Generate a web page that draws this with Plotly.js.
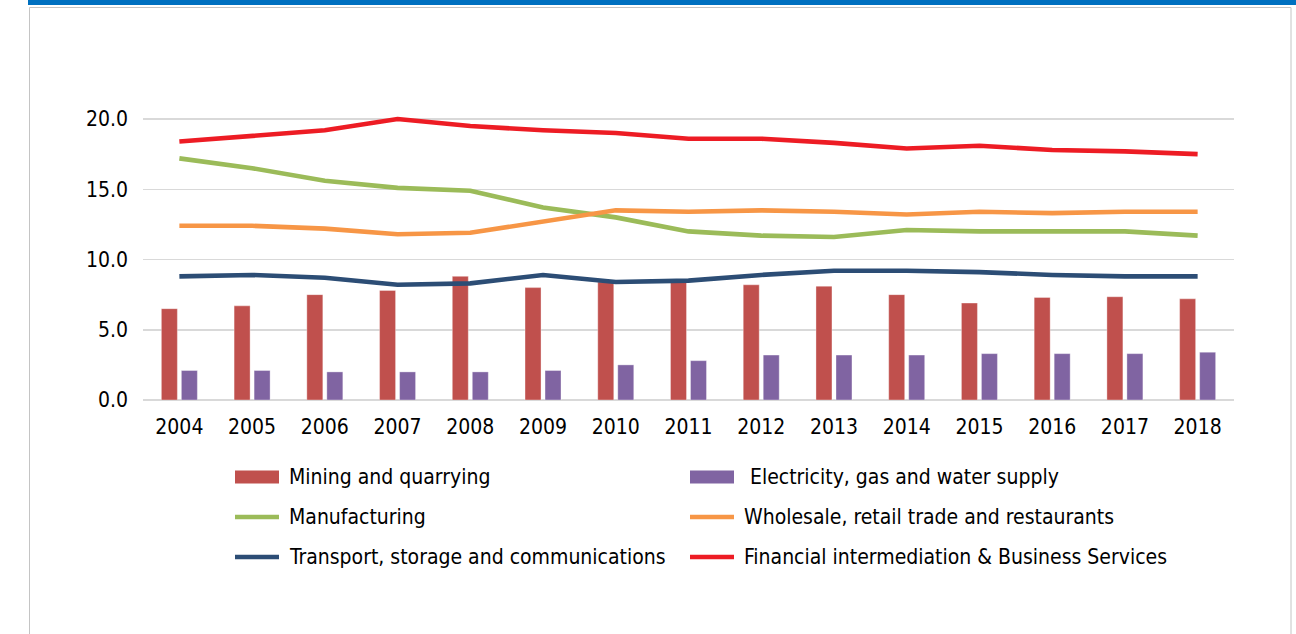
<!DOCTYPE html>
<html>
<head>
<meta charset="utf-8">
<script src="https://cdn.plot.ly/plotly-3.0.1.min.js"></script>
<style>
  html, body { margin: 0; padding: 0; background: #ffffff; }
  #chart { width: 1296px; height: 634px; }
</style>
</head>
<body>
<div id="chart"></div>
<script>
// ---- data ----
const years = ['2004','2005','2006','2007','2008','2009','2010','2011','2012','2013','2014','2015','2016','2017','2018'];
const mining        = [6.5, 6.7, 7.5, 7.8, 8.8, 8.0, 8.4, 8.5, 8.2, 8.1, 7.5, 6.9, 7.3, 7.35, 7.2];
const electricity   = [2.1, 2.1, 2.0, 2.0, 2.0, 2.1, 2.5, 2.8, 3.2, 3.2, 3.2, 3.3, 3.3, 3.3, 3.4];
const manufacturing = [17.2, 16.5, 15.6, 15.1, 14.9, 13.7, 13.0, 12.0, 11.7, 11.6, 12.1, 12.0, 12.0, 12.0, 11.7];
const wholesale     = [12.4, 12.4, 12.2, 11.8, 11.9, 12.7, 13.5, 13.4, 13.5, 13.4, 13.2, 13.4, 13.3, 13.4, 13.4];
const transport     = [8.8, 8.9, 8.7, 8.2, 8.3, 8.9, 8.4, 8.5, 8.9, 9.2, 9.2, 9.1, 8.9, 8.8, 8.8];
const financial     = [18.4, 18.8, 19.2, 20.0, 19.5, 19.2, 19.0, 18.6, 18.6, 18.3, 17.9, 18.1, 17.8, 17.7, 17.5];
const seriesNames = [
  'Mining and quarrying',
  ' Electricity, gas and water supply',
  'Manufacturing',
  'Wholesale, retail trade and restaurants',
  'Transport, storage and communications',
  'Financial intermediation & Business Services'
];
const yTicks = [0, 5, 10, 15, 20];

// ---- styling ----
const FONT = 'DejaVu Sans Condensed, Noto Sans, DejaVu Sans, sans-serif';
const FS = 21;
const colors = ['#C0504D', '#8064A2', '#9BBB59', '#F79646', '#2C4D75', '#ED1C24'];

// pixel -> paper helpers (plot area: x 143..1234, y 112..400)
const L = 143, R = 62, T = 112, B = 234, W = 1296, Hh = 634;
const PW = W - L - R, PH = Hh - T - B;
const xp = px => (px - L) / PW;
const yp = py => (Hh - B - py) / PH;

const traces = [
  { type: 'bar', x: years, y: mining, name: seriesNames[0],
    marker: { color: colors[0], line: { color: 'rgba(255,255,255,0.35)', width: 1 } } },
  { type: 'bar', x: years, y: electricity, name: seriesNames[1],
    marker: { color: colors[1], line: { color: 'rgba(255,255,255,0.35)', width: 1 } } },
  { type: 'scatter', mode: 'lines', x: years, y: manufacturing, name: seriesNames[2],
    line: { color: colors[2], width: 4.6 } },
  { type: 'scatter', mode: 'lines', x: years, y: wholesale, name: seriesNames[3],
    line: { color: colors[3], width: 4.6 } },
  { type: 'scatter', mode: 'lines', x: years, y: transport, name: seriesNames[4],
    line: { color: colors[4], width: 4.6 } },
  { type: 'scatter', mode: 'lines', x: years, y: financial, name: seriesNames[5],
    line: { color: colors[5], width: 4.6 } }
];

// frame shapes
const shapes = [
  { type: 'rect', xref: 'paper', yref: 'paper', layer: 'below',
    x0: xp(29.5), x1: xp(1291), y0: yp(7.5), y1: yp(650),
    line: { color: '#c4c4c4', width: 1 }, fillcolor: 'rgba(0,0,0,0)' },
  { type: 'rect', xref: 'paper', yref: 'paper', layer: 'above',
    x0: xp(28), x1: xp(1300), y0: yp(-2), y1: yp(5),
    line: { width: 0 }, fillcolor: '#0070C0' }
];

// custom legend (2 columns x 3 rows)
const legendCols = [233, 688];
const legendTextX = [[289, 744], [289, 744], [289, 744]];
const legendRows = [477, 517, 557];
const annotations = [];
for (let i = 0; i < 6; i++) {
  const row = Math.floor(i / 2), col = i % 2;
  const cy = legendRows[row];
  const x0 = legendCols[col];
  if (traces[i].type === 'bar') {
    shapes.push({ type: 'rect', xref: 'paper', yref: 'paper',
      x0: xp(x0 + 2), x1: xp(x0 + 46), y0: yp(cy - 6.5), y1: yp(cy + 6.5),
      line: { width: 0 }, fillcolor: colors[i] });
  } else {
    shapes.push({ type: 'line', xref: 'paper', yref: 'paper',
      x0: xp(x0 + 2), x1: xp(x0 + 46), y0: yp(cy), y1: yp(cy),
      line: { color: colors[i], width: 4.5 } });
  }
  annotations.push({ xref: 'paper', yref: 'paper', x: xp(legendTextX[row][col] - 2), y: yp(cy),
    xanchor: 'left', yanchor: 'middle', showarrow: false, text: seriesNames[i],
    font: { family: FONT, size: FS, color: '#000000' } });
}

const layout = {
  width: W, height: Hh,
  margin: { l: L, r: R, t: T, b: B, pad: 0 },
  paper_bgcolor: '#ffffff', plot_bgcolor: '#ffffff',
  font: { family: FONT, size: FS, color: '#000000' },
  showlegend: false,
  barmode: 'group', bargap: 0.45, bargroupgap: 0.2,
  xaxis: {
    type: 'category', showgrid: false, zeroline: false, showline: false,
    ticks: '', ticklabelstandoff: 12,
    tickfont: { family: FONT, size: FS, color: '#000000' }
  },
  yaxis: {
    range: [0, 20.5], tickvals: yTicks, tickformat: '.1f',
    showgrid: true, gridcolor: '#d9d9d9', gridwidth: 1.5,
    zeroline: true, zerolinecolor: '#d9d9d9', zerolinewidth: 1.5,
    showline: false, ticks: '', ticklabelstandoff: 14,
    tickfont: { family: FONT, size: FS, color: '#000000' }
  },
  shapes: shapes,
  annotations: annotations
};

Plotly.newPlot('chart', traces, layout, { displayModeBar: false, staticPlot: true });
</script>
</body>
</html>
